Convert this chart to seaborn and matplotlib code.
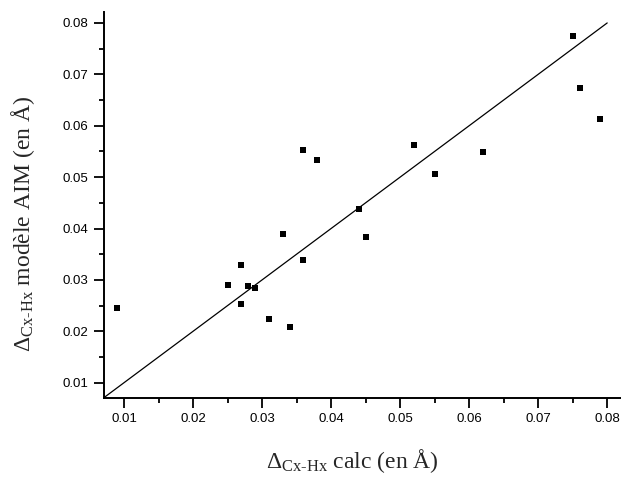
import matplotlib
matplotlib.use("Agg")
import matplotlib.pyplot as plt
import seaborn as sns
import pandas as pd
from matplotlib.ticker import MultipleLocator, FormatStrFormatter

# Data
calc = [0.009, 0.025, 0.027, 0.027, 0.028, 0.029, 0.031, 0.033, 0.034, 0.036,
        0.036, 0.038, 0.044, 0.045, 0.052, 0.055, 0.062, 0.075, 0.076, 0.079]
aim = [0.0246, 0.0290, 0.0329, 0.0254, 0.0288, 0.0284, 0.0224, 0.0390, 0.0208, 0.0339,
       0.0553, 0.0533, 0.0438, 0.0383, 0.0562, 0.0507, 0.0548, 0.0775, 0.0673, 0.0613]
line_x = [0.007, 0.080]
line_y = [0.007, 0.080]

sns.set_style("ticks")
plt.rcParams['font.family'] = ['Liberation Sans', 'DejaVu Sans']
plt.rcParams['mathtext.fontset'] = 'custom'
plt.rcParams['mathtext.rm'] = 'Liberation Serif'
plt.rcParams['mathtext.it'] = 'Liberation Serif:italic'
plt.rcParams['mathtext.bf'] = 'Liberation Serif:bold'

fig = plt.figure(figsize=(6.21, 4.79), dpi=100)
ax = fig.add_axes([0.167, 0.1697, 0.833, 0.806])

df = pd.DataFrame({"calc": calc, "aim": aim})
sns.lineplot(x=line_x, y=line_y, ax=ax, color="black", linewidth=0.9)
sns.scatterplot(data=df, x="calc", y="aim", ax=ax, marker="s", s=14,
                color="black", linewidth=0, zorder=3)

ax.set_xlim(0.00706, 0.0820)
ax.set_ylim(0.00708, 0.0822)
ax.xaxis.set_major_locator(MultipleLocator(0.01))
ax.xaxis.set_minor_locator(MultipleLocator(0.005))
ax.yaxis.set_major_locator(MultipleLocator(0.01))
ax.yaxis.set_minor_locator(MultipleLocator(0.005))
ax.xaxis.set_major_formatter(FormatStrFormatter('%.2f'))
ax.yaxis.set_major_formatter(FormatStrFormatter('%.2f'))
ax.tick_params(which='major', length=7, width=1.3, labelsize=9.5, colors='black', direction='out', pad=4)
ax.tick_params(which='minor', length=3.5, width=1.3, direction='out', colors='black')

for s in ['top', 'right']:
    ax.spines[s].set_visible(False)
for s in ['left', 'bottom']:
    ax.spines[s].set_linewidth(1.4)
    ax.spines[s].set_color('black')

serif = ['Liberation Serif', 'DejaVu Serif']
ax.set_xlabel(r'$\Delta_{\mathrm{Cx\text{-}Hx}}$ calc (en Å)', fontsize=17, family=serif, labelpad=16)
ax.xaxis.label.set_x(0.48)
ax.set_ylabel(r'$\Delta_{\mathrm{Cx\text{-}Hx}}$ modèle AIM (en Å)', fontsize=17, family=serif, labelpad=16)
ax.yaxis.set_label_coords(-0.128, 0.45)

fig.savefig("out.png", dpi=100)
